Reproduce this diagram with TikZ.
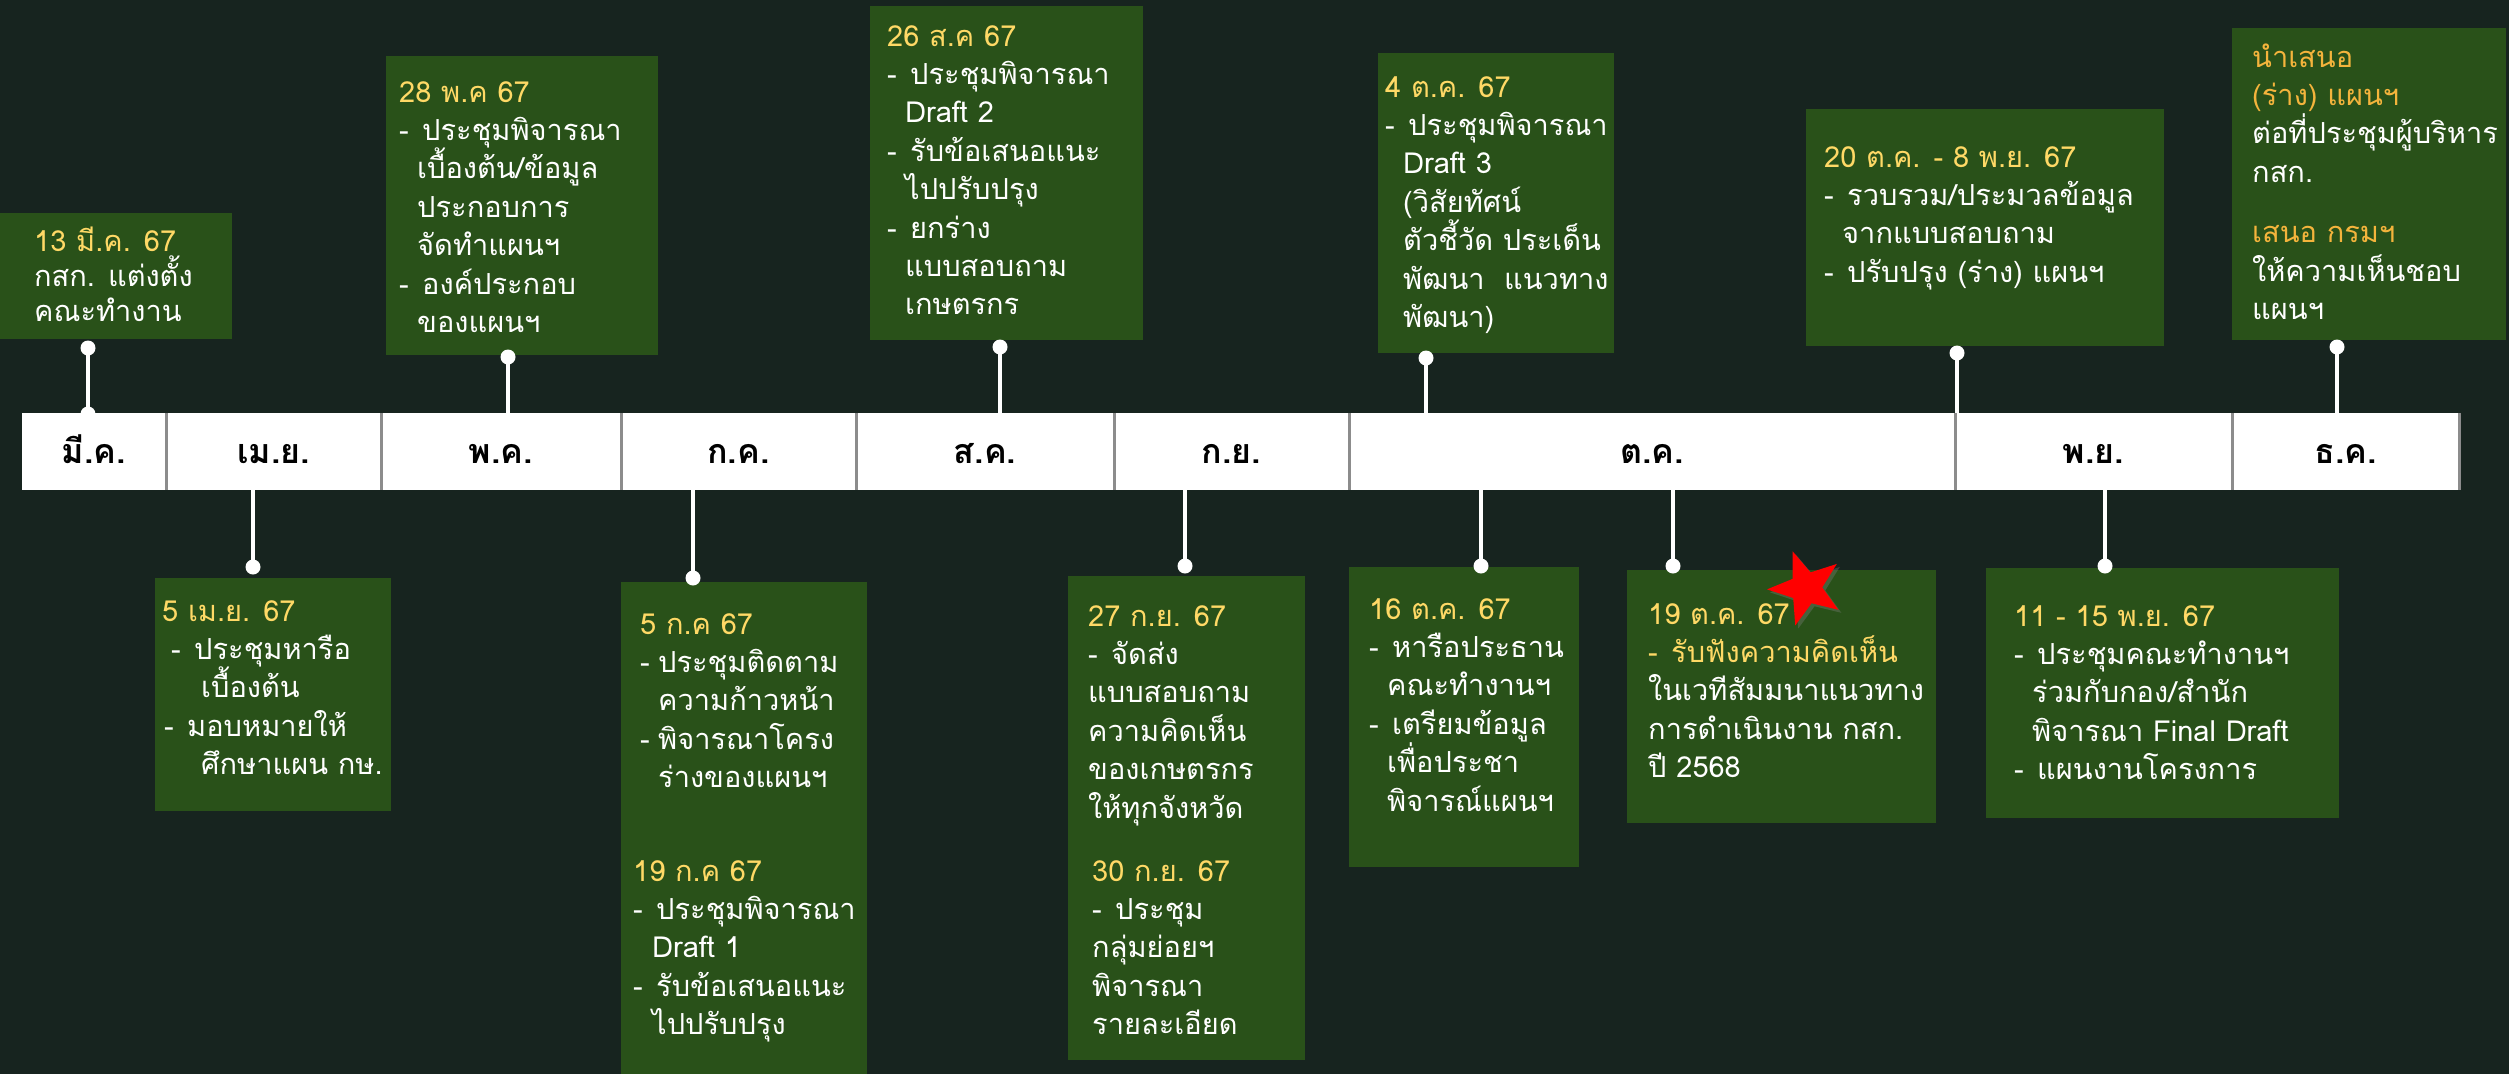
\documentclass[tikz,border=0pt]{standalone}
\usepackage{fontspec}
\setmainfont{Loma}[Script=Thai]
\usetikzlibrary{shapes.geometric,shadows}
\definecolor{bgc}{HTML}{17241F}
\definecolor{boxc}{HTML}{295119}
\definecolor{yelc}{HTML}{FFD966}
\definecolor{orgc}{HTML}{F4B43C}
\definecolor{divc}{HTML}{8C8C8C}
\newcommand\yel[1]{\textcolor{yelc}{#1}}
\newcommand\orgt[1]{\textcolor{orgc}{#1}}
\newcommand\dsh{\makebox[23pt][l]{-}}
\newcommand\indt{\hspace*{18pt}}
\begin{document}
\begin{tikzpicture}[x=1pt,y=-1pt,
 box/.style={fill=boxc, draw=none, anchor=north west, inner sep=0pt, outer sep=0pt},
 txt/.style={anchor=base west, align=left, inner sep=0pt, text=white, font=\fontsize{29pt}{38.4pt}\selectfont},
 dot/.style={circle, fill=white, inner sep=0pt, minimum size=15pt},
 conn/.style={draw=white, line width=4pt},
 month/.style={anchor=base, inner sep=0pt, text=black, font=\fontsize{34pt}{40pt}\selectfont\bfseries},
 divider/.style={draw=divc, line width=3pt}
]
\useasboundingbox (0,0) rectangle (2509,1074);
\fill[bgc] (0,0) rectangle (2509,1074);

% boxes
\node[box, minimum width=232pt, minimum height=126pt] (b1) at (0,213) {};
\node[box, minimum width=272pt, minimum height=299pt] (b2) at (386,56) {};
\node[box, minimum width=273pt, minimum height=334pt] (b3) at (870,6) {};
\node[box, minimum width=236pt, minimum height=300pt] (b4) at (1378,53) {};
\node[box, minimum width=358pt, minimum height=237pt] (b5) at (1806,109) {};
\node[box, minimum width=274pt, minimum height=312pt] (b6) at (2232,28) {};
\node[box, minimum width=236pt, minimum height=233pt] (b7) at (155,578) {};
\node[box, minimum width=246pt, minimum height=492pt] (b8) at (621,582) {};
\node[box, minimum width=237pt, minimum height=484pt] (b9) at (1068,576) {};
\node[box, minimum width=230pt, minimum height=300pt] (b10) at (1349,567) {};
\node[box, minimum width=309pt, minimum height=253pt] (b11) at (1627,570) {};
\node[box, minimum width=353pt, minimum height=250pt] (b12) at (1986,568) {};

% texts (anchor = baseline of the last line)
\node[txt, font=\fontsize{29pt}{35pt}\selectfont] (t1) at (34,321) {\yel{13 มี.ค. 67}\\กสก. แต่งตั้ง\\คณะทำงาน};
\node[txt] (t2) at (399,332.4) {\yel{28 พ.ค 67}\\\dsh ประชุมพิจารณา\\\indt เบื้องต้น/ข้อมูล\\\indt ประกอบการ\\\indt จัดทำแผนฯ\\\dsh องค์ประกอบ\\\indt ของแผนฯ};
\node[txt] (t3) at (887,314.8) {\yel{26 ส.ค 67}\\\dsh ประชุมพิจารณา\\\indt Draft 2\\\dsh รับข้อเสนอแนะ\\\indt ไปปรับปรุง\\\dsh ยกร่าง\\\indt แบบสอบถาม\\\indt เกษตรกร};
\node[txt] (t4) at (1385,327.4) {\yel{4 ต.ค. 67}\\\dsh ประชุมพิจารณา\\\indt Draft 3\\\indt (วิสัยทัศน์\\\indt ตัวชี้วัด ประเด็น\\\indt พัฒนา\ \ แนวทาง\\\indt พัฒนา)};
\node[txt] (t5) at (1824,282.2) {\yel{20 ต.ค. - 8 พ.ย. 67}\\\dsh รวบรวม/ประมวลข้อมูล\\\indt จากแบบสอบถาม\\\dsh ปรับปรุง (ร่าง) แผนฯ};
\node[txt] (t6) at (2252,319.4) {\orgt{นำเสนอ}\\\orgt{(ร่าง) แผนฯ}\\ต่อที่ประชุมผู้บริหาร\\กสก.\\[22pt]\orgt{เสนอ กรมฯ}\\ให้ความเห็นชอบ\\แผนฯ};
\node[txt] (t7) at (162,774.6) {\yel{5 เม.ย. 67}\\\hspace*{9pt}\dsh ประชุมหารือ\\\hspace*{39pt}เบื้องต้น\\\hspace*{2pt}\dsh มอบหมายให้\\\hspace*{39pt}ศึกษาแผน กษ.};
\node[txt] (t8a) at (640,787.6) {\yel{5 ก.ค 67}\\\makebox[18pt][l]{-}ประชุมติดตาม\\\hspace*{18pt}ความก้าวหน้า\\\makebox[18pt][l]{-}พิจารณาโครง\\\hspace*{18pt}ร่างของแผนฯ};
\node[txt] (t8b) at (633,1034.6) {\yel{19 ก.ค 67}\\\dsh ประชุมพิจารณา\\\hspace*{19pt}Draft 1\\\dsh รับข้อเสนอแนะ\\\hspace*{19pt}ไปปรับปรุง};
\node[txt] (t9a) at (1088,818) {\yel{27 ก.ย. 67}\\\dsh จัดส่ง\\แบบสอบถาม\\ความคิดเห็น\\ของเกษตรกร\\ให้ทุกจังหวัด};
\node[txt] (t9b) at (1092,1034.6) {\yel{30 ก.ย. 67}\\\dsh ประชุม\\กลุ่มย่อยฯ\\พิจารณา\\รายละเอียด};
\node[txt] (t10) at (1369,811) {\yel{16 ต.ค. 67}\\\dsh หารือประธาน\\\indt คณะทำงานฯ\\\dsh เตรียมข้อมูล\\\indt เพื่อประชา\\\indt พิจารณ์แผนฯ};
\node[txt] (t11) at (1648,777.6) {\yel{19 ต.ค. 67}\\\yel{\dsh รับฟังความคิดเห็น}\\ในเวทีสัมมนาแนวทาง\\การดำเนินงาน กสก.\\ปี 2568};
\node[txt] (t12) at (2014,779.6) {\yel{11 - 15 พ.ย. 67}\\\dsh ประชุมคณะทำงานฯ\\\indt ร่วมกับกอง/สำนัก\\\indt พิจารณา Final Draft\\\dsh แผนงานโครงการ};

% dots
\node[dot] (d1) at (88,348) {};
\node[dot] (d1b) at (88,414) {};
\node[dot] (d2) at (508,357) {};
\node[dot] (d3) at (1000,347) {};
\node[dot] (d4) at (1426,358) {};
\node[dot] (d5) at (1957,353) {};
\node[dot] (d6) at (2337,347) {};
\node[dot] (d7) at (253,567) {};
\node[dot] (d8) at (693,578) {};
\node[dot] (d9) at (1185,566) {};
\node[dot] (d10) at (1481,566) {};
\node[dot] (d11) at (1673,566) {};
\node[dot] (d12) at (2105,566) {};

% month bar
\node[box, fill=white, minimum width=2437pt, minimum height=77pt] (bar) at (22,413) {};

% connectors (run under the bar, which is painted again on top)
\foreach \d in {d1,d2,d3,d4,d5,d6,d7,d8,d9,d10,d11,d12}
  \draw[conn] (\d.center) -- (\d.center |- bar.center);
\node[box, fill=white, minimum width=2437pt, minimum height=77pt] (barfront) at (22,413) {};

% dividers
\foreach \x in {166,381,621,856,1114,1349,1955,2232,2459}
  \draw[divider] (\x,413) -- (\x,490);

% month labels
\node[month] (m1) at (94,463) {มี.ค.};
\node[month] (m2) at (273.5,463) {เม.ย.};
\node[month] (m3) at (501,463) {พ.ค.};
\node[month] (m4) at (738.5,463) {ก.ค.};
\node[month] (m5) at (985,463) {ส.ค.};
\node[month] (m6) at (1231.5,463) {ก.ย.};
\node[month] (m7) at (1652,463) {ต.ค.};
\node[month] (m8) at (2093.5,463) {พ.ย.};
\node[month] (m9) at (2345.5,463) {ธ.ค.};

% star
\node[star, star points=5, star point ratio=2.4, minimum size=78pt, inner sep=0pt, fill=red, shape border rotate=20, drop shadow={shadow xshift=3pt, shadow yshift=-3pt, opacity=0.35}] (star) at (1806,588) {};
\end{tikzpicture}
\end{document}
